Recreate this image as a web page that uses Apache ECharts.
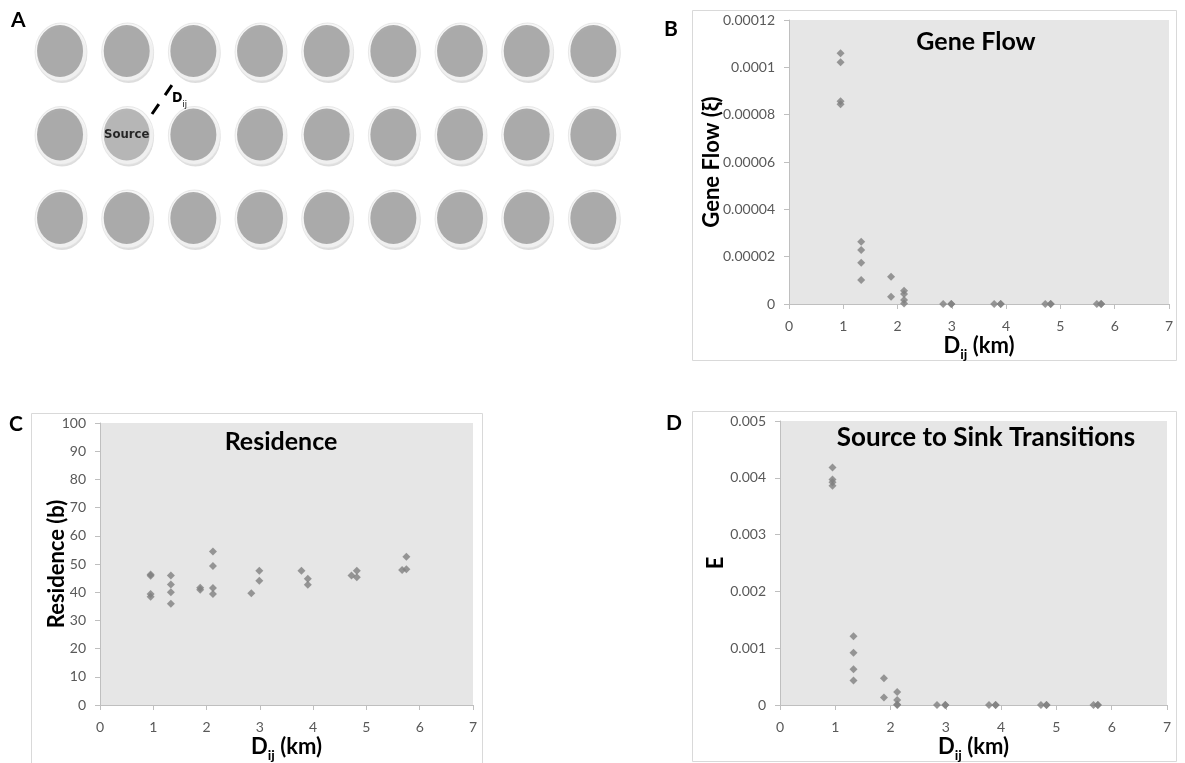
<!DOCTYPE html>
<html>
<head>
<meta charset="utf-8">
<script src="https://cdn.jsdelivr.net/npm/echarts@6/dist/echarts.min.js"></script>
<style>
  html, body { margin: 0; padding: 0; background: #ffffff; }
  #chart { width: 1185px; height: 763px; }
</style>
</head>
<body>
<div id="chart"></div>
<script>
// ---- Landscape schematic (panel A): patch grid layout ----
const patchColumns = [1, 2, 3, 4, 5, 6, 7, 8, 9];
const patchRows = [1, 2, 3];
const sourcePatch = [2, 2];

// ---- Pairwise distance from the source patch (km) ----
const distanceKm = [
  0.95, 0.95, 0.95, 0.95,
  1.33, 1.33, 1.33, 1.33,
  1.88, 1.88,
  2.12, 2.12, 2.12, 2.12,
  2.84, 2.99, 2.99,
  3.78, 3.90, 3.90,
  4.72, 4.82, 4.82,
  5.67, 5.75, 5.75
];

// ---- Gene flow (xi) ----
const geneFlow = [
  0.0001060, 0.0001022, 0.0000857, 0.0000844,
  0.0000263, 0.0000228, 0.0000174, 0.0000101,
  0.0000115, 0.0000031,
  0.0000056, 0.0000042, 0.0000017, 0.0000002,
  0, 0, 0,
  0, 0, 0,
  0, 0, 0,
  0, 0, 0
];

// ---- Residence (b) ----
const residence = [
  46.3, 45.8, 39.4, 38.4,
  45.9, 42.7, 40.0, 35.9,
  41.6, 40.9,
  54.4, 49.3, 41.5, 39.4,
  39.6, 47.6, 44.1,
  47.6, 44.8, 42.6,
  45.9, 47.6, 45.3,
  47.9, 52.6, 48.1
];

// ---- Source to sink transitions (E) ----
const transitions = [
  0.00418, 0.00397, 0.00392, 0.00386,
  0.00121, 0.00092, 0.00063, 0.00043,
  0.00047, 0.00013,
  0.00023, 0.00009, 0.00001, 0,
  0, 0, 0,
  0, 0, 0,
  0, 0, 0,
  0, 0, 0
];

// ---- Tick labels ----
const distanceTicks = ['0', '1', '2', '3', '4', '5', '6', '7'];
const geneFlowTicks = ['0', '0.00002', '0.00004', '0.00006', '0.00008', '0.0001', '0.00012'];
const residenceTicks = ['0', '10', '20', '30', '40', '50', '60', '70', '80', '90', '100'];
const transitionTicks = ['0', '0.001', '0.002', '0.003', '0.004', '0.005'];

const FONT = 'Lato, "Open Sans", sans-serif';
const SCHEM_FONT = '"DejaVu Sans Condensed", "DejaVu Sans", sans-serif';
const AXIS_COLOR = '#bfbfbf';
const LABEL_COLOR = '#595959';
const MARKER_COLOR = '#7f7f7f';
const PLOT_BG = '#e6e6e6';

const chart = echarts.init(document.getElementById('chart'), null, { renderer: 'canvas' });

const pairs = (xs, ys) => xs.map((x, i) => [x, ys[i]]);

const subRich = {
  d: { fontFamily: FONT, fontSize: 22, fontWeight: 'bold', color: '#000', lineHeight: 24 },
  s: { fontFamily: FONT, fontSize: 14, fontWeight: 'bold', color: '#000', lineHeight: 14, padding: [13, 0, 0, 0], verticalAlign: 'top' }
};

function distanceAxis(gridIndex) {
  return {
    type: 'value', gridIndex, min: 0, max: 7, interval: 1,
    axisLine: { show: true, onZero: false, lineStyle: { color: AXIS_COLOR, width: 1 } },
    axisTick: { show: true, length: 5, lineStyle: { color: AXIS_COLOR } },
    axisLabel: { color: LABEL_COLOR, fontSize: 14, fontFamily: FONT, margin: 15,
      formatter: v => distanceTicks[Math.round(v)] },
    splitLine: { show: false },
    name: '{d|D}{s|ij}{d| (km)}', nameLocation: 'middle', nameGap: 30, nameMoveOverlap: false,
    nameTextStyle: { rich: subRich }
  };
}

function valueAxis(gridIndex, max, interval, ticks, name, nameGap) {
  return {
    type: 'value', gridIndex, min: 0, max, interval,
    axisLine: { show: true, onZero: false, lineStyle: { color: AXIS_COLOR, width: 1 } },
    axisTick: { show: true, length: 5, lineStyle: { color: AXIS_COLOR } },
    axisLabel: { color: LABEL_COLOR, fontSize: 14, fontFamily: FONT, margin: 14,
      formatter: v => ticks[Math.round(v / interval)] },
    splitLine: { show: false },
    name, nameLocation: 'middle', nameRotate: 90, nameGap, nameMoveOverlap: false,
    nameTextStyle: { fontFamily: FONT, fontSize: 22, fontWeight: 'bold', color: '#000' }
  };
}

function scatterSeries(idx, data) {
  return {
    type: 'scatter', xAxisIndex: idx, yAxisIndex: idx, data,
    symbol: 'diamond', symbolSize: 8,
    itemStyle: { color: MARKER_COLOR },
    silent: true, animation: false
  };
}

// Patch grid points for the schematic
const patchPoints = [];
patchRows.forEach(r => patchColumns.forEach(c => patchPoints.push([c, r])));
const isSource = p => p[0] === sourcePatch[0] && p[1] === sourcePatch[1];

const option = {
  backgroundColor: '#ffffff',
  animation: false,
  grid: [
    { left: 26.7, top: 9.3, width: 600, height: 250.5, show: false },
    { left: 789, top: 20, width: 380, height: 284, show: true, backgroundColor: PLOT_BG, borderWidth: 0 },
    { left: 100, top: 423, width: 373, height: 285, show: true, backgroundColor: PLOT_BG, borderWidth: 0 },
    { left: 780, top: 421, width: 387, height: 284, show: true, backgroundColor: PLOT_BG, borderWidth: 0 }
  ],
  xAxis: [
    { type: 'value', gridIndex: 0, min: 0.5, max: 9.5, show: false },
    distanceAxis(1),
    distanceAxis(2),
    distanceAxis(3)
  ],
  yAxis: [
    { type: 'value', gridIndex: 0, min: 0.5, max: 3.5, inverse: true, show: false },
    valueAxis(1, 0.00012, 0.00002, geneFlowTicks, 'Gene Flow (ξ)', 66),
    valueAxis(2, 100, 10, residenceTicks, 'Residence (b)', 32),
    valueAxis(3, 0.005, 0.001, transitionTicks, 'E', 53)
  ],
  series: [
    // patch drop shadow
    {
      type: 'scatter', xAxisIndex: 0, yAxisIndex: 0, data: patchPoints,
      symbol: 'circle', symbolSize: [50, 56], symbolOffset: [2, 4],
      itemStyle: { color: '#d4d4d4' }, silent: true, z: 1
    },
    // patch rim
    {
      type: 'scatter', xAxisIndex: 0, yAxisIndex: 0, data: patchPoints,
      symbol: 'circle', symbolSize: [52, 58], symbolOffset: [1, 1],
      itemStyle: { color: '#f5f5f5', borderColor: '#e2e2e2', borderWidth: 1 }, silent: true, z: 2
    },
    // patch body
    {
      type: 'scatter', xAxisIndex: 0, yAxisIndex: 0,
      data: patchPoints.map(p => isSource(p)
        ? { value: p, itemStyle: { color: '#a8a8a8' },
            label: { show: true, position: 'inside', formatter: 'Source',
              fontFamily: SCHEM_FONT, fontWeight: 'bold', fontSize: 13, color: '#000' } }
        : { value: p }),
      symbol: 'circle', symbolSize: [46, 52],
      itemStyle: { color: '#999999' }, silent: true, z: 3
    },
    scatterSeries(1, pairs(distanceKm, geneFlow)),
    scatterSeries(2, pairs(distanceKm, residence)),
    scatterSeries(3, pairs(distanceKm, transitions))
  ],
  graphic: [
    // chart-area frames
    { type: 'rect', shape: { x: 692.5, y: 10.5, width: 484, height: 350 },
      style: { fill: 'none', stroke: '#d9d9d9', lineWidth: 1 }, z: 0 },
    { type: 'rect', shape: { x: 31.5, y: 413.5, width: 451, height: 400 },
      style: { fill: 'none', stroke: '#d9d9d9', lineWidth: 1 }, z: 0 },
    { type: 'rect', shape: { x: 692.5, y: 411.5, width: 484, height: 350 },
      style: { fill: 'none', stroke: '#d9d9d9', lineWidth: 1 }, z: 0 },

    // panel letters
    { type: 'text', left: 11, top: 10, style: { text: 'A', fontFamily: FONT, fontSize: 21, fontWeight: 'bold', fill: '#000' } },
    { type: 'text', left: 664, top: 19, style: { text: 'B', fontFamily: FONT, fontSize: 21, fontWeight: 'bold', fill: '#000' } },
    { type: 'text', left: 9, top: 414, style: { text: 'C', fontFamily: FONT, fontSize: 21, fontWeight: 'bold', fill: '#000' } },
    { type: 'text', left: 666, top: 413, style: { text: 'D', fontFamily: FONT, fontSize: 21, fontWeight: 'bold', fill: '#000' } },

    // plot titles
    { type: 'text', x: 976, y: 42, z: 10, style: { text: 'Gene Flow', fontFamily: FONT, fontSize: 25, fontWeight: 'bold', fill: '#000', align: 'center', verticalAlign: 'middle' } },
    { type: 'text', x: 281, y: 442, z: 10, style: { text: 'Residence', fontFamily: FONT, fontSize: 25, fontWeight: 'bold', fill: '#000', align: 'center', verticalAlign: 'middle' } },
    { type: 'text', x: 986, y: 438, z: 10, style: { text: 'Source to Sink Transitions', fontFamily: FONT, fontSize: 26, fontWeight: 'bold', fill: '#000', align: 'center', verticalAlign: 'middle' } },

    // distance marker between the source and a neighbouring patch
    { type: 'line', z: 10, shape: { x1: 152, y1: 114, x2: 172, y2: 85 },
      style: { stroke: '#000', lineWidth: 3, lineDash: [12, 11] } },
    { type: 'text', x: 172, y: 98, z: 10, style: {
        text: '{d|D}{s|ij}', verticalAlign: 'middle',
        rich: {
          d: { fontFamily: SCHEM_FONT, fontSize: 14, fontWeight: 'bold', fill: '#000', lineHeight: 15 },
          s: { fontFamily: SCHEM_FONT, fontSize: 9, fill: '#000', lineHeight: 9, padding: [10, 0, 0, 0], verticalAlign: 'top' }
        } } }
  ]
};

chart.setOption(option);
</script>
</body>
</html>
